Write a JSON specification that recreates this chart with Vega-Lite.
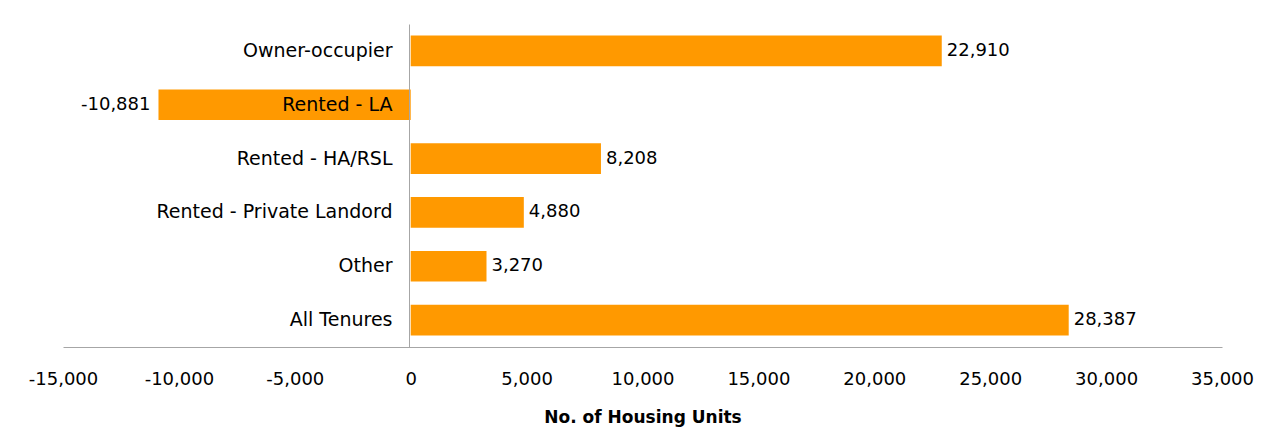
{
  "$schema": "https://vega.github.io/schema/vega-lite/v6.json",
  "width": 1159,
  "height": 323,
  "autosize": {"type": "none"},
  "padding": {"left": 63, "top": 24, "right": 50, "bottom": 99},
  "background": "white",
  "config": {
    "view": {"stroke": null},
    "font": "DejaVu Sans",
    "locale": {"number": {"decimal": ".", "thousands": ",", "grouping": [3], "currency": ["$", ""], "minus": "-"}}
  },
  "data": {
    "values": [
      {"tenure": "Owner-occupier", "value": 22910},
      {"tenure": "Rented - LA", "value": -10881},
      {"tenure": "Rented - HA/RSL", "value": 8208},
      {"tenure": "Rented - Private Landord", "value": 4880},
      {"tenure": "Other", "value": 3270},
      {"tenure": "All Tenures", "value": 28387}
    ]
  },
  "encoding": {
    "y": {
      "field": "tenure",
      "type": "nominal",
      "sort": null,
      "scale": {"paddingInner": 0.43, "paddingOuter": 0.215},
      "axis": {
        "title": null,
        "offset": -346,
        "ticks": false,
        "domainColor": "#a6a6a6",
        "domainWidth": 1,
        "labelPadding": 17,
        "labelFontSize": 19,
        "labelColor": "black",
        "labelLimit": 0,
        "zindex": 1
      }
    },
    "x": {
      "field": "value",
      "type": "quantitative",
      "scale": {"domain": [-15000, 35000], "nice": false, "zero": false},
      "axis": {
        "title": "No. of Housing Units",
        "titleFontSize": 17,
        "titleFontWeight": "bold",
        "titleColor": "black",
        "titlePadding": 21,
        "values": [-15000, -10000, -5000, 0, 5000, 10000, 15000, 20000, 25000, 30000, 35000],
        "format": ",d",
        "ticks": false,
        "grid": false,
        "domainColor": "#a6a6a6",
        "labelFontSize": 18,
        "labelColor": "black",
        "labelPadding": 23,
        "labelFlush": false
      }
    }
  },
  "layer": [
    {"mark": {"type": "bar", "color": "#ff9900"}},
    {
      "transform": [{"filter": "datum.value >= 0"}],
      "mark": {"type": "text", "align": "left", "baseline": "middle", "dx": 5, "fontSize": 18, "color": "black"},
      "encoding": {"text": {"field": "value", "type": "quantitative", "format": ",d"}}
    },
    {
      "transform": [{"filter": "datum.value < 0"}],
      "mark": {"type": "text", "align": "right", "baseline": "middle", "dx": -8, "fontSize": 18, "color": "black"},
      "encoding": {"text": {"field": "value", "type": "quantitative", "format": ",d"}}
    }
  ]
}
